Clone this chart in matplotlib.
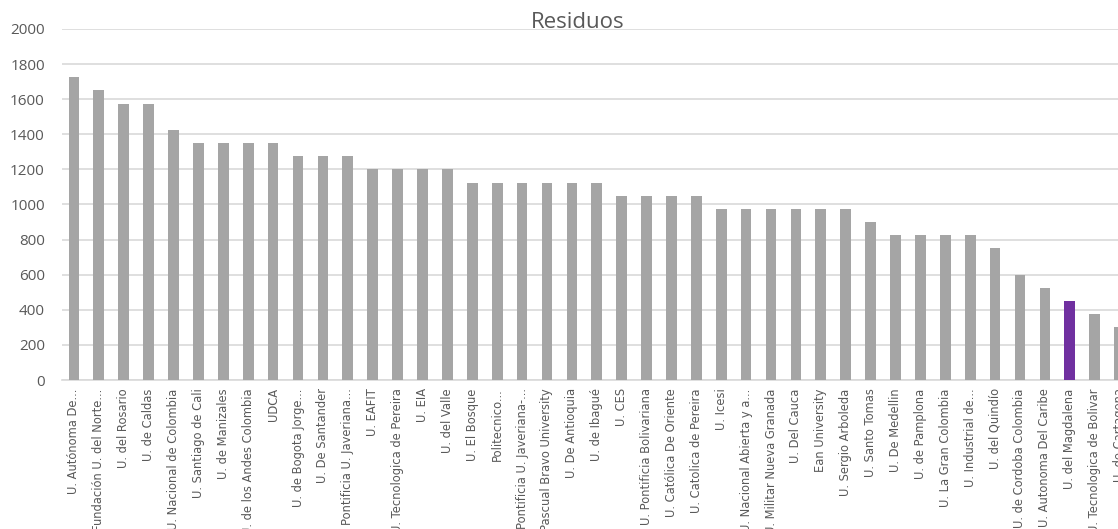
import matplotlib
matplotlib.use('agg')
import matplotlib.pyplot as plt
import numpy as np

universidades = [
    'U. Autónoma De...', 'Fundación U. del Norte...', 'U. del Rosario', 'U. de Caldas',
    'U. Nacional de Colombia', 'U. Santiago de Cali', 'U. de Manizales',
    'U. de los Andes Colombia', 'UDCA', 'U. de Bogota Jorge...', 'U. De Santander',
    'Pontificia U. Javeriana...', 'U. EAFIT', 'U. Tecnologica de Pereira', 'U. EIA',
    'U. del Valle', 'U. El Bosque', 'Politecnico...', 'Pontificia U. Javeriana-...',
    'Pascual Bravo University', 'U. De Antioquia', 'U. de Ibagué', 'U. CES',
    'U. Pontificia Bolivariana', 'U. Católica De Oriente', 'U. Catolica de Pereira',
    'U. Icesi', 'U. Nacional Abierta y a...', 'U. Militar Nueva Granada', 'U. Del Cauca',
    'Ean University', 'U. Sergio Arboleda', 'U. Santo Tomas', 'U. De Medellin',
    'U. de Pamplona', 'U. La Gran Colombia', 'U. Industrial de...', 'U. del Quindío',
    'U. de Cordoba Colombia', 'U. Autonoma Del Caribe', 'U. del Magdalena',
    'U. Tecnologica de Bolivar', 'U. de Cartagena',
]
residuos = [
    1725, 1650, 1575, 1575, 1425, 1350, 1350, 1350, 1350, 1275, 1275, 1275,
    1200, 1200, 1200, 1200, 1125, 1125, 1125, 1125, 1125, 1125, 1050, 1050,
    1050, 1050, 975, 975, 975, 975, 975, 975, 900, 825, 825, 825, 825, 750,
    600, 525, 450, 375, 300,
]
destacada = 'U. del Magdalena'

W, H = 1118, 529
fig = plt.figure(figsize=(W / 100, H / 100), dpi=100)
# axes run past the right edge, the last bar is cut like in the original
left, right, bottom, top = 61.5, 1132, 380, 29
ax = fig.add_axes([left / W, 1 - bottom / H, (right - left) / W, (bottom - top) / H])

x = np.arange(len(universidades))
colores = ['#7030A0' if u == destacada else '#A5A5A5' for u in universidades]
ax.bar(x, residuos, width=0.43, color=colores, zorder=3)

ax.set_xlim(-0.5, len(universidades) - 0.5)
ax.set_ylim(0, 2000)
ax.set_yticks(np.arange(0, 2001, 200))
ax.yaxis.grid(True, color='#D9D9D9', linewidth=1.2, zorder=0)
for s in ['top', 'right', 'left']:
    ax.spines[s].set_visible(False)
ax.spines['bottom'].set_color('#D9D9D9')
ax.spines['bottom'].set_linewidth(1.2)
ax.tick_params(axis='both', length=0, colors='#595959')
ax.tick_params(axis='y', labelsize=11, pad=12)
for lbl in ax.get_yticklabels():
    lbl.set_family(['Open Sans', 'DejaVu Sans'])

ax.set_xticks(x)
ax.set_xticklabels(universidades, rotation=90, fontsize=8.3,
                   family=['Liberation Sans Narrow', 'DejaVu Sans'], va='top', ha='center')
ax.tick_params(axis='x', pad=6)

fig.text(578 / W, 1 - 23 / H, 'Residuos', ha='center', va='center', fontsize=16,
         color='#595959', family=['Open Sans', 'DejaVu Sans'])

fig.savefig('out.png', dpi=100)
